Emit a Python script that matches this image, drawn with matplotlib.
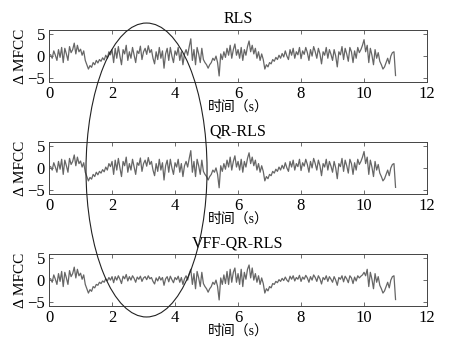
import matplotlib
matplotlib.use("Agg")
import matplotlib.pyplot as plt
from matplotlib.patches import Ellipse
import numpy as np

plt.rcParams['font.family'] = ['Liberation Serif', 'Noto Sans CJK SC']
plt.rcParams['font.size'] = 11

# samples every 0.05 s, 0.05 .. 11.00
t = np.arange(1, 221) * 0.05

rls = [
    0.3, -0.5, 1.2, 0.2, -1.0, 1.5, -0.3, 2.0, -1.5, 1.8, 0.5, -1.0, 2.2, 0.8, 1.5, 3.0, 0.5, 2.5, 1.0, 1.6,
    0.2, 1.2, -1.0, -2.0, -3.0, -2.2, -2.6, -1.5, -2.0, -1.0, -1.6, -0.8, -1.2, -0.4, -0.9, 0.2, -0.5, 1.0, 0.3, 1.5,
    -1.5, 1.8, -0.5, 2.2, 0.0, -2.0, 1.5, 0.5, 2.5, -1.0, 1.0, -0.5, 2.0, 0.2, -1.5, 1.2, 0.6, 2.3, -0.8, 1.0,
    1.8, 0.4, 2.4, 0.8, 1.5, -0.5, -1.8, 1.0, -0.8, 2.0, -0.5, 1.2, -2.8, 0.5, 1.8, -1.0, 2.0, 0.0, -1.5, 1.2,
    0.2, 2.0, -1.0, 1.0, -2.0, 0.5, 1.5, 0.2, 2.2, 4.0, -1.0, 1.5, -2.0, 2.0, 0.5, -1.5, 1.8, -0.8, -1.5, -2.0,
    -2.8, -2.0, -1.5, -0.5, -1.0, 0.0, -1.5, -4.6, 0.5, -0.8, 1.0, -0.3, 1.8, 0.2, 2.5, -0.5, 1.5, 2.8, 0.2, 1.5,
    -0.5, 2.0, -1.0, 1.5, 0.2, 2.2, 3.5, 1.0, 2.5, 0.5, 1.8, -0.5, 1.0, -1.0, 0.5, -0.8, -3.0, -2.0, -2.5, -1.5,
    -1.8, -0.8, -1.2, -0.3, -0.8, 0.2, -0.5, 0.6, -0.2, 1.2, 0.0, -0.8, 1.5, 0.2, 1.8, -0.5, 1.0, 0.3, 2.0, -0.6,
    1.2, 0.4, 2.0, 0.8, -1.0, 1.5, 0.0, 2.2, 1.0, -0.5, 1.8, 0.5, -1.8, 1.0, 0.2, 2.0, -0.5, 1.5, 0.4, -1.0,
    1.5, 0.0, -2.5, 1.0, 0.3, 2.2, -0.8, 1.8, 0.5, -1.2, 2.0, 1.0, -1.5, 1.2, -0.5, 2.0, 0.8, 1.5, 2.5, 3.8,
    1.0, 2.5, -1.5, 1.8, 0.2, -2.0, 1.5, -0.5, 0.8, -1.2, -2.0, -3.0, -2.5, -1.5, -0.5, -1.8, 0.0, 0.8, 1.0, -4.5,
]

qr_rls = [
    0.3, -0.5, 1.2, 0.2, -1.0, 1.5, -0.3, 2.0, -1.5, 1.8, 0.5, -1.0, 2.2, 0.8, 1.5, 3.0, 0.5, 2.5, 1.0, 1.6,
    0.2, 1.2, -1.0, -2.0, -3.0, -2.2, -2.6, -1.5, -2.0, -1.0, -1.6, -0.8, -1.2, -0.4, -0.9, 0.2, -0.5, 1.0, 0.3, 1.5,
    -1.5, 1.8, -0.5, 2.2, 0.0, -2.0, 1.5, 0.5, 2.5, -1.0, 1.0, -0.5, 2.0, 0.2, -1.5, 1.2, 0.6, 2.3, -0.8, 1.0,
    1.8, 0.4, 2.4, 0.8, 1.5, -0.5, -1.8, 1.0, -0.8, 2.0, -0.5, 1.2, -2.8, 0.5, 1.8, -1.0, 2.0, 0.0, -1.5, 1.2,
    0.2, 2.0, -1.0, 1.0, -2.0, 0.5, 1.5, 0.2, 2.2, 4.0, -1.0, 1.5, -2.0, 2.0, 0.5, -1.5, 1.8, -0.8, -1.5, -2.0,
    -2.8, -2.0, -1.5, -0.5, -1.0, 0.0, -1.5, -4.6, 0.5, -0.8, 1.0, -0.3, 1.8, 0.2, 2.5, -0.5, 1.5, 2.8, 0.2, 1.5,
    -0.5, 2.0, -1.0, 1.5, 0.2, 2.2, 3.5, 1.0, 2.5, 0.5, 1.8, -0.5, 1.0, -1.0, 0.5, -0.8, -3.0, -2.0, -2.5, -1.5,
    -1.8, -0.8, -1.2, -0.3, -0.8, 0.2, -0.5, 0.6, -0.2, 1.2, 0.0, -0.8, 1.5, 0.2, 1.8, -0.5, 1.0, 0.3, 2.0, -0.6,
    1.2, 0.4, 2.0, 0.8, -1.0, 1.5, 0.0, 2.2, 1.0, -0.5, 1.8, 0.5, -1.8, 1.0, 0.2, 2.0, -0.5, 1.5, 0.4, -1.0,
    1.5, 0.0, -2.5, 1.0, 0.3, 2.2, -0.8, 1.8, 0.5, -1.2, 2.0, 1.0, -1.5, 1.2, -0.5, 2.0, 0.8, 1.5, 2.5, 3.8,
    1.0, 2.5, -1.5, 1.8, 0.2, -2.0, 1.5, -0.5, 0.8, -1.2, -2.0, -3.0, -2.5, -1.5, -0.5, -1.8, 0.0, 0.8, 1.0, -4.5,
]

vff_qr_rls = [
    0.3, -0.5, 1.2, 0.2, -1.0, 1.5, -0.3, 2.0, -1.5, 1.8, 0.5, -1.0, 2.2, 0.8, 1.5, 3.0, 0.5, 2.5, 1.0, 1.6,
    0.2, 1.2, -1.0, -2.0, -3.0, -2.2, -2.6, -1.5, -1.8, -1.0, -1.2, -0.5, -0.8, -0.2, -0.5, 0.3, -0.2, 0.6, 0.0, 0.8,
    -0.6, 0.8, 0.0, 1.0, 0.2, -0.8, 0.9, 0.3, 1.3, -0.2, 0.8, 0.0, 1.0, 0.4, -0.5, 0.7, 0.2, 0.9, -0.3, 0.5,
    0.8, 0.1, 1.0, 0.3, 0.6, -0.3, -0.9, 0.5, -0.2, 0.8, 0.0, 0.6, -1.2, 0.3, 0.8, -0.4, 0.9, 0.1, -0.6, 0.6,
    0.1, 0.9, -0.5, 0.6, -1.0, 0.3, 1.0, 0.0, 1.5, 2.5, -1.0, 1.5, -2.0, 2.0, 0.5, -1.5, 1.8, -0.8, -1.5, -2.0,
    -2.8, -2.0, -1.5, -0.5, -1.0, 0.0, -1.5, -4.6, 0.5, -1.0, 1.2, -0.8, 2.0, -1.0, 2.5, -0.5, 1.8, 2.8, -0.5, 1.5,
    -1.0, 2.5, -1.5, 1.8, 0.2, 2.5, 3.5, 0.5, 2.8, 0.0, 1.5, -0.5, 1.0, -1.0, 0.5, -0.8, -3.0, -2.0, -2.5, -1.5,
    -1.8, -0.8, -1.0, -0.3, -0.6, 0.1, -0.3, 0.4, -0.1, 0.7, 0.0, -0.4, 0.9, 0.2, 1.0, -0.2, 0.6, 0.2, 1.1, -0.3,
    0.7, 0.2, 1.1, 0.5, -0.5, 0.8, 0.0, 1.2, 0.6, -0.3, 1.0, 0.3, -0.9, 0.6, 0.1, 1.0, -0.3, 0.8, 0.2, -0.5,
    0.8, 0.0, -1.2, 0.6, 0.2, 1.0, -0.4, 0.9, 0.3, -0.6, 1.0, 0.5, -0.8, 0.7, -0.2, 1.0, 0.5, 0.9, 1.2, 1.8,
    1.0, 2.5, -1.5, 1.8, 0.2, -2.0, 1.5, -0.5, 0.8, -1.2, -2.0, -3.0, -2.5, -1.5, -0.5, -1.8, 0.0, 0.8, 1.0, -4.5,
]

titles = ["RLS", "QR-RLS", "VFF-QR-RLS"]
series = [rls, qr_rls, vff_qr_rls]
bottoms = [0.769, 0.454, 0.138]

fig = plt.figure(figsize=(4.5, 3.55), dpi=100)

for title, y, b in zip(titles, series, bottoms):
    ax = fig.add_axes([0.109, b, 0.84, 0.146])
    ax.plot(t, y, color="#666666", lw=0.9)
    ax.set_xlim(0, 12)
    ax.set_ylim(-6, 6)
    ax.set_xticks(np.arange(0, 13, 2))
    ax.set_yticks([-5, 0, 5])
    ax.set_yticklabels(["\u22125", "0", "5"])
    ax.tick_params(direction="in", top=True, right=True, length=3, width=0.6,
                   color="#555555", labelsize=12, pad=3)
    for s in ax.spines.values():
        s.set_linewidth(0.7)
        s.set_color("#444444")
    ax.set_title(title, fontsize=11.5, pad=5)
    ax.set_xlabel("时间（s）", fontsize=10, labelpad=-1,
                  family=["Liberation Serif", "Noto Sans CJK SC"])
    ax.set_ylabel("\u0394 MFCC", fontsize=11, labelpad=0)

ell = Ellipse((0.3256, 0.5211), 0.269, 0.828, transform=fig.transFigure,
              fill=False, edgecolor="#222222", lw=0.8)
fig.add_artist(ell)

fig.savefig("out.png", dpi=100)
